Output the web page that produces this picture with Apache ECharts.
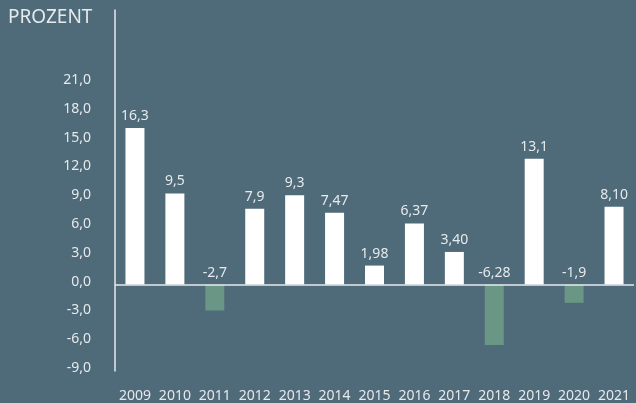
<!DOCTYPE html>
<html>
<head>
<meta charset="utf-8">
<script src="https://cdn.jsdelivr.net/npm/echarts@6/dist/echarts.min.js"></script>
<style>
html,body{margin:0;padding:0;background:#4f6a78;}
#c{width:636px;height:403px;}
</style>
</head>
<body>
<div id="c"></div>
<script>
const years = ['2009','2010','2011','2012','2013','2014','2015','2016','2017','2018','2019','2020','2021'];
const values = [16.3, 9.5, -2.7, 7.9, 9.3, 7.47, 1.98, 6.37, 3.40, -6.28, 13.1, -1.9, 8.10];
const valueLabels = ['16,3','9,5','-2,7','7,9','9,3','7,47','1,98','6,37','3,40','-6,28','13,1','-1,9','8,10'];
const yTitle = 'PROZENT';

const light = '#e6eaed';
const chart = echarts.init(document.getElementById('c'));
chart.setOption({
  backgroundColor: '#4f6a78',
  animation: false,
  textStyle: { fontFamily: 'Noto Sans' },
  graphic: [{
    type: 'text', left: 8, top: 8,
    style: { text: yTitle, fill: light, font: '19px "Noto Sans"' }
  }],
  grid: { left: 115, right: 2, top: 10, bottom: 32 },
  xAxis: {
    type: 'category',
    data: years,
    axisLine: { show: false },
    axisTick: { show: false },
    axisLabel: { color: light, fontSize: 14, margin: 18, interval: 0 }
  },
  yAxis: {
    type: 'value',
    min: -9, max: 28.6, interval: 3,
    axisLine: { show: true, lineStyle: { color: light, width: 1.5 } },
    axisTick: { show: false },
    splitLine: { show: false },
    axisLabel: {
      color: light, fontSize: 14, margin: 24,
      verticalAlign: 'bottom', lineHeight: 6,
      showMaxLabel: false,
      formatter: v => v > 21 ? '' : v.toFixed(1).replace('.', ',')
    }
  },
  series: [{
    type: 'bar',
    barWidth: 19,
    data: values.map((v, i) => ({
      value: v,
      itemStyle: { color: v < 0 ? '#6a9685' : '#ffffff' },
      label: {
        show: true,
        position: 'top',
        distance: 5,
        formatter: valueLabels[i],
        color: light, fontSize: 14
      }
    })),
    markLine: {
      silent: true, symbol: 'none',
      label: { show: false },
      lineStyle: { color: light, width: 1.5, type: 'solid' },
      data: [{ yAxis: 0 }]
    }
  }]
});
</script>
</body>
</html>
